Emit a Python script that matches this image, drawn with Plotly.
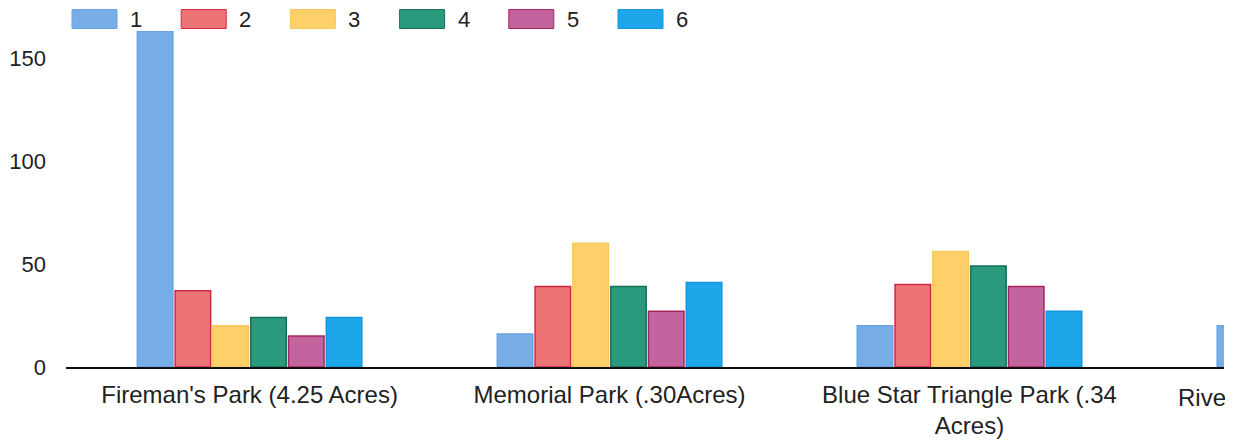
import plotly.graph_objects as go

categories = ["Fireman's Park (4.25 Acres)", "Memorial Park (.30Acres)",
              "Blue Star Triangle Park (.34<br>Acres)", "Rive"]
series_names = ["1", "2", "3", "4", "5", "6"]
s1 = [163, 16, 20, 20]
s2 = [37, 39, 40, None]
s3 = [20, 60, 56, None]
s4 = [24, 39, 49, None]
s5 = [15, 27, 39, None]
s6 = [24, 41, 27, None]
series_values = [s1, s2, s3, s4, s5, s6]
y_ticks = [0, 50, 100, 150]

fill_colors = ["#78aee8", "#ec7474", "#fdd06a", "#2a9a7c", "#c4649e", "#1ea6ea"]
line_colors = ["#6aa3e0", "#cc2a44", "#f7c75c", "#17705a", "#a8245e", "#1596dc"]

W, H = 1238, 446
ML, MR, MT, MB = 66, 14, 30.5, 79
PW, PH = W - ML - MR, H - MT - MB


def px_x(p):
    return (p - ML) / PW


def px_y(p):
    return (H - MB - p) / PH


fig = go.Figure()
for name, vals, fc, lc in zip(series_names, series_values, fill_colors, line_colors):
    fig.add_trace(go.Bar(
        name=name, x=categories, y=vals, showlegend=False,
        marker=dict(color=fc, line=dict(color=lc, width=1.5)),
    ))

font_family = "Liberation Sans, Arial, sans-serif"
fig.update_layout(
    width=W, height=H,
    margin=dict(l=ML, r=MR, t=MT, b=MB, autoexpand=False),
    paper_bgcolor="white", plot_bgcolor="white",
    barmode="group", bargap=0.37, bargroupgap=0.06,
    font=dict(family=font_family, size=22, color="#222222"),
    xaxis=dict(
        type="category", range=[-0.51, 2.707],
        showline=True, linecolor="#111111", linewidth=2,
        showgrid=False, zeroline=False, ticks="", ticklabelstandoff=5,
        tickfont=dict(size=24, color="#222222"),
        fixedrange=True, automargin=False,
    ),
    yaxis=dict(
        range=[0, 163], tickvals=y_ticks,
        showgrid=False, zeroline=False, showline=False,
        ticks="", ticklabelstandoff=19,
        tickfont=dict(size=22, color="#222222"),
        fixedrange=True, automargin=False,
    ),
)

# legend (large swatches as in the original)
leg_x0, leg_step, sw_w, sw_top, sw_bot = 72, 109.2, 45, 9, 28
for i, (name, fc, lc) in enumerate(zip(series_names, fill_colors, line_colors)):
    x0 = leg_x0 + i * leg_step
    fig.add_shape(type="rect", xref="paper", yref="paper",
                  x0=px_x(x0), x1=px_x(x0 + sw_w), y0=px_y(sw_bot), y1=px_y(sw_top),
                  fillcolor=fc, line=dict(color=lc, width=1))
    fig.add_annotation(text=name, xref="paper", yref="paper",
                       x=px_x(x0 + sw_w + 11), y=px_y((sw_top + sw_bot) / 2),
                       xanchor="left", yanchor="middle", showarrow=False,
                       font=dict(size=22, color="#222222"))

# truncated label of the partially visible fourth category
fig.add_annotation(
    text=categories[3], xref="paper", yref="paper",
    x=px_x(1176), y=px_y(398), xanchor="left", yanchor="middle",
    showarrow=False, font=dict(size=24, color="#222222"),
)

fig.write_html("out.html", config={"displayModeBar": False},
               post_script="document.body.style.margin='0px';")
